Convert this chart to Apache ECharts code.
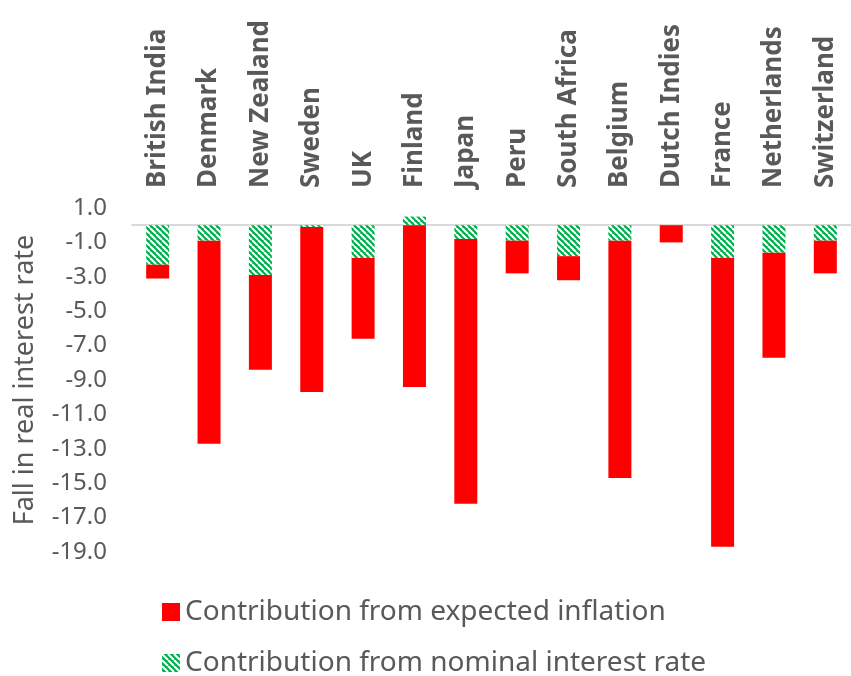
<!DOCTYPE html>
<html>
<head>
<meta charset="utf-8">
<script src="https://cdn.jsdelivr.net/npm/echarts@6/dist/echarts.min.js"></script>
<style>
    html, body { margin: 0; padding: 0; background: #fff; }
    #chart { width: 851px; height: 676px; }
</style>
</head>
<body>
<div id="chart"></div>
<script>
// 数据
const categories = ['British India', 'Denmark', 'New Zealand', 'Sweden', 'UK', 'Finland', 'Japan',
                    'Peru', 'South Africa', 'Belgium', 'Dutch Indies', 'France', 'Netherlands', 'Switzerland']
const nominalRate = [-2.3, -0.9, -2.9, -0.1, -1.9, 0.5, -0.8, -0.9, -1.8, -0.9, 0, -1.9, -1.6, -0.9]
const expectedInflation = [-0.8, -11.8, -5.5, -9.6, -4.7, -9.4, -15.4, -1.9, -1.4, -13.8, -1.0, -16.8, -6.1, -1.9]
const seriesNames = ['Contribution from expected inflation', 'Contribution from nominal interest rate']

!function(){

    // 斜线填充
    const hatch = document.createElement('canvas')
    hatch.width = 6
    hatch.height = 6
    const ctx = hatch.getContext('2d')
    ctx.fillStyle = '#00B050'
    ctx.fillRect(0, 0, 6, 6)
    ctx.strokeStyle = '#ffffff'
    ctx.lineWidth = 2
    for (let x of [-6, 0, 6]) {
        ctx.beginPath()
        ctx.moveTo(x, 0)
        ctx.lineTo(x + 6, 6)
        ctx.stroke()
    }

    const grey = '#595959'
    let chart = echarts.init(document.getElementById('chart'), null, { renderer: 'canvas' })

    let option = {
        animation: false,
        grid: { left: 132, right: -11, top: 208, bottom: 124 },
        legend: {
            data: seriesNames,
            orient: 'vertical',
            left: 162,
            top: 598,
            height: 150,
            padding: 0,
            itemWidth: 18,
            itemHeight: 18,
            itemGap: 23,
            icon: 'rect',
            textStyle: { fontFamily: 'Noto Sans', fontSize: 28, color: grey, lineHeight: 28 }
        },
        xAxis: {
            type: 'category',
            data: categories,
            position: 'top',
            axisLine: { onZero: true, lineStyle: { color: '#d9d9d9', width: 2 } },
            axisTick: { show: false },
            axisLabel: {
                interval: 0,
                rotate: 90,
                margin: 20,
                fontFamily: 'Noto Sans',
                fontWeight: 'bold',
                fontSize: 26,
                color: grey
            }
        },
        yAxis: {
            type: 'value',
            min: -19,
            max: 1,
            interval: 1,
            name: 'Fall in real interest rate',
            nameLocation: 'middle',
            nameGap: 93,
            nameTextStyle: { fontFamily: 'Noto Sans', fontSize: 27, color: grey },
            axisLine: { show: false },
            axisTick: { show: false },
            splitLine: { show: false },
            axisLabel: {
                margin: 25,
                fontFamily: 'Noto Sans',
                fontSize: 24,
                color: grey,
                formatter: v => (Math.round(v + 19) % 2 === 0 ? v.toFixed(1) : '')
            }
        },
        series: [
            {
                name: seriesNames[1],
                type: 'bar',
                stack: 'total',
                barWidth: 23,
                data: nominalRate,
                itemStyle: { color: { image: hatch, repeat: 'repeat' } }
            },
            {
                name: seriesNames[0],
                type: 'bar',
                stack: 'total',
                barWidth: 23,
                data: expectedInflation,
                itemStyle: { color: '#FF0000' }
            }
        ]
    }

    chart.setOption(option)
}()
</script>
</body>
</html>
